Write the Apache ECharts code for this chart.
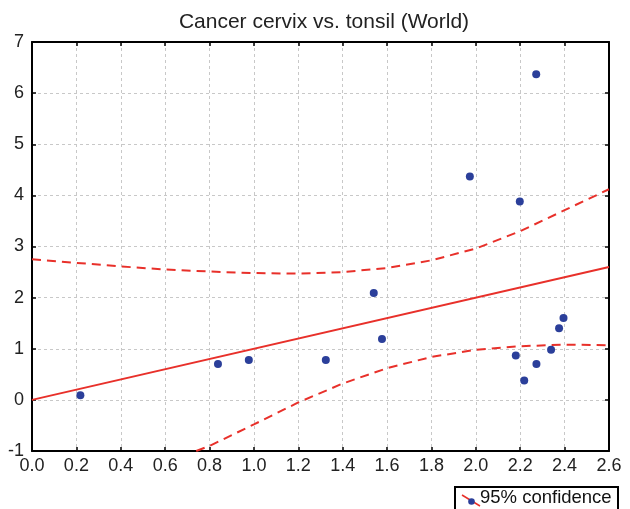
<!DOCTYPE html>
<html><head><meta charset="utf-8">
<script src="https://cdn.jsdelivr.net/npm/echarts@6/dist/echarts.min.js"></script>
<style>html,body{margin:0;padding:0;background:#fff}#c{width:630px;height:509px}</style>
</head><body><div id="c"></div>
<script>
const pointsX = [0.218, 0.838, 0.977, 1.324, 1.54, 1.577, 1.973, 2.198, 2.18, 2.218, 2.273, 2.272, 2.339, 2.375, 2.395];
const pointsY = [0.09, 0.70, 0.78, 0.78, 2.09, 1.19, 4.37, 3.88, 0.87, 0.38, 0.70, 6.37, 0.98, 1.40, 1.60];
const fitX = [0, 2.6];
const fitY = [0, 2.6];
const upperX = [0, 0.2, 0.4, 0.6, 0.8, 1.0, 1.2, 1.4, 1.6, 1.8, 2.0, 2.2, 2.4, 2.6];
const upperY = [2.75, 2.68, 2.61, 2.55, 2.51, 2.48, 2.47, 2.50, 2.58, 2.73, 2.96, 3.30, 3.71, 4.12];
const lowerX = [0.74, 0.8, 1.0, 1.2, 1.4, 1.6, 1.8, 2.0, 2.2, 2.4, 2.6];
const lowerY = [-1.0, -0.9, -0.48, -0.05, 0.32, 0.62, 0.84, 0.98, 1.05, 1.08, 1.07];
const titleText = 'Cancer cervix vs. tonsil (World)';
const legendText = '95% confidence';

const zip = (a, b) => a.map((v, i) => [v, b[i]]);
const font = 'Liberation Sans, Arial, sans-serif';
const red = '#e8302a';
const blue = '#2b3f9a';
const chart = echarts.init(document.getElementById('c'));
const gridLine = {show: true, lineStyle: {color: '#c8c8c8', type: [3, 3], width: 1}};
const axLine = {show: true, onZero: false, lineStyle: {color: '#000', width: 2}};
const tick = {show: true, inside: true, length: 4, lineStyle: {color: '#000', width: 1.5}};
chart.setOption({
  animation: false,
  title: {text: titleText, left: 319, textAlign: 'center', top: 7,
    textStyle: {fontFamily: font, fontSize: 21, fontWeight: 'normal', color: '#222'}},
  grid: {left: 32, right: 21, top: 42, bottom: 58},
  xAxis: [
    {type: 'value', min: 0, max: 2.6, interval: 0.2, position: 'bottom',
     axisLine: axLine, axisTick: tick,
     axisLabel: {fontFamily: font, fontSize: 18, color: '#222', margin: 6, formatter: v => v.toFixed(1)},
     splitLine: gridLine},
    {type: 'value', min: 0, max: 2.6, interval: 0.2, position: 'top',
     axisLine: axLine, axisTick: tick, axisLabel: {show: false}, splitLine: {show: false}}
  ],
  yAxis: [
    {type: 'value', min: -1, max: 7, interval: 1, position: 'left',
     axisLine: axLine, axisTick: tick,
     axisLabel: {fontFamily: font, fontSize: 18, color: '#222', margin: 8},
     splitLine: gridLine},
    {type: 'value', min: -1, max: 7, interval: 1, position: 'right',
     axisLine: axLine, axisTick: tick, axisLabel: {show: false}, splitLine: {show: false}}
  ],
  graphic: [
    {type: 'rect', shape: {x: 455, y: 487, width: 163, height: 34}, style: {fill: '#fff', stroke: '#000', lineWidth: 2}, z: 100},
    {type: 'line', shape: {x1: 462, y1: 495, x2: 480, y2: 506}, style: {stroke: red, lineWidth: 1.5}, z: 101},
    {type: 'circle', shape: {cx: 471.5, cy: 501.5, r: 3.3}, style: {fill: blue}, z: 102},
    {type: 'text', x: 480, y: 498, style: {text: legendText, fontFamily: font, fontSize: 18.5, fill: '#111', textVerticalAlign: 'middle'}, z: 102}
  ],
  series: [
    {name: 'fit', type: 'line', data: zip(fitX, fitY), showSymbol: false, silent: true,
     lineStyle: {color: red, width: 2}, z: 3},
    {name: legendText, type: 'line', data: zip(upperX, upperY), showSymbol: false, silent: true,
     lineStyle: {color: red, width: 2, type: [9, 6]}, z: 3},
    {name: 'lower', type: 'line', data: zip(lowerX, lowerY), showSymbol: false, silent: true,
     lineStyle: {color: red, width: 2, type: [9, 6]}, z: 3},
    {name: 'points', type: 'scatter', data: zip(pointsX, pointsY), symbolSize: 8,
     itemStyle: {color: blue, opacity: 1}, z: 4}
  ]
});
</script></body></html>
